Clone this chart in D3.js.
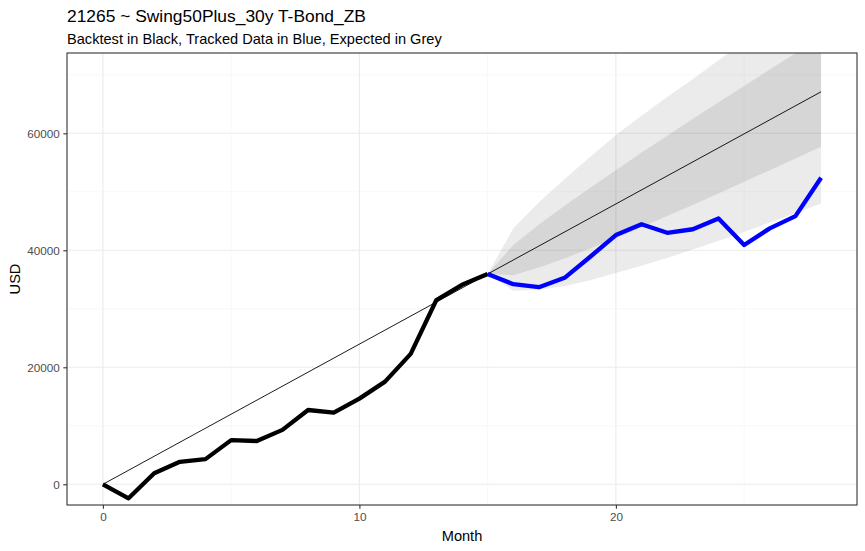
<!DOCTYPE html>
<html>
<head>
<meta charset="utf-8">
<script src="https://cdn.jsdelivr.net/npm/d3@7"></script>
<style>
  html, body { margin: 0; padding: 0; background: #fff; }
  svg { display: block; font-family: "Liberation Sans", Arial, sans-serif; }
</style>
</head>
<body>
<svg id="chart" width="865" height="551"></svg>
<script>
// ---- data ----
const backtestMonths = [0,1,2,3,4,5,6,7,8,9,10,11,12,13,14,15];
const backtestValues = [0,-2400,1900,3850,4300,7550,7400,9300,12700,12250,14650,17550,22300,31500,34100,35950];

const trackedMonths = [15,16,17,18,19,20,21,22,23,24,25,26,27,28];
const trackedValues = [35950,34200,33700,35300,38900,42600,44450,43000,43600,45450,40900,43750,45850,52400];

const expectedMonths = [0,28];
const expectedValues = [0,67100];

const bandMonths  = [15,16,17,18,19,20,21,22,23,24,25,26,27,28];
const outerUpper  = [35950,43760,48200,52200,56000,59700,63000,66200,69300,72500,75600,78600,81600,84600];
const innerUpper  = [35950,40900,44400,47600,50700,53700,56700,59600,62500,65300,68100,70900,73700,76500];
const innerLower  = [35950,35750,37050,38600,40300,42100,43950,45850,47750,49700,51700,53700,55700,57700];
const outerLower  = [35950,33100,33250,33900,34900,36100,37350,38700,40150,41600,43150,44750,46350,48000];

const xTicks = [0,10,20];
const xMinor = [5,15,25];
const yTicks = [0,20000,40000,60000];
const yMinor = [10000,30000,50000,70000];

const titleText = "21265 ~ Swing50Plus_30y T-Bond_ZB";
const subtitleText = "Backtest in Black, Tracked Data in Blue, Expected in Grey";
const xLabel = "Month";
const yLabel = "USD";

// ---- layout ----
const svg = d3.select("#chart");
const panel = {left: 67, right: 857, top: 53, bottom: 505};

const x = d3.scaleLinear().domain([-1.4, 29.4]).range([panel.left, panel.right]);
const y = d3.scaleLinear().domain([-3540, 73730]).range([panel.bottom, panel.top]);

const defs = svg.append("defs");
defs.append("clipPath").attr("id", "clip")
  .append("rect").attr("x", panel.left).attr("y", panel.top)
  .attr("width", panel.right - panel.left).attr("height", panel.bottom - panel.top);

// grid
const grid = svg.append("g");
xMinor.forEach(v => grid.append("line").attr("x1", x(v)).attr("x2", x(v))
  .attr("y1", panel.top).attr("y2", panel.bottom).attr("stroke", "#f2f2f2").attr("stroke-width", 0.55));
yMinor.forEach(v => { if (y(v) > panel.top) grid.append("line").attr("y1", y(v)).attr("y2", y(v))
  .attr("x1", panel.left).attr("x2", panel.right).attr("stroke", "#f2f2f2").attr("stroke-width", 0.55); });
xTicks.forEach(v => grid.append("line").attr("x1", x(v)).attr("x2", x(v))
  .attr("y1", panel.top).attr("y2", panel.bottom).attr("stroke", "#ebebeb").attr("stroke-width", 1.1));
yTicks.forEach(v => grid.append("line").attr("y1", y(v)).attr("y2", y(v))
  .attr("x1", panel.left).attr("x2", panel.right).attr("stroke", "#ebebeb").attr("stroke-width", 1.1));

const plot = svg.append("g").attr("clip-path", "url(#clip)");

// bands
const outerData = bandMonths.map((m, i) => ({m, lo: outerLower[i], hi: outerUpper[i]}));
const innerData = bandMonths.map((m, i) => ({m, lo: innerLower[i], hi: innerUpper[i]}));
const area = d3.area().x(d => x(d.m)).y0(d => y(d.lo)).y1(d => y(d.hi));
plot.append("path").datum(outerData).attr("d", area).attr("fill", "#000").attr("fill-opacity", 0.078);
plot.append("path").datum(innerData).attr("d", area).attr("fill", "#000").attr("fill-opacity", 0.085);

const line = d3.line().x(d => x(d[0])).y(d => y(d[1]));

// expected
plot.append("path").datum(expectedMonths.map((m, i) => [m, expectedValues[i]]))
  .attr("d", line).attr("fill", "none").attr("stroke", "#000").attr("stroke-width", 0.9);

// backtest
plot.append("path").datum(backtestMonths.map((m, i) => [m, backtestValues[i]]))
  .attr("d", line).attr("fill", "none").attr("stroke", "#000").attr("stroke-width", 4.3)
  .attr("stroke-linejoin", "round");

// tracked
plot.append("path").datum(trackedMonths.map((m, i) => [m, trackedValues[i]]))
  .attr("d", line).attr("fill", "none").attr("stroke", "#0000ff").attr("stroke-width", 4.3)
  .attr("stroke-linejoin", "round");

// panel border
svg.append("rect").attr("x", panel.left).attr("y", panel.top)
  .attr("width", panel.right - panel.left).attr("height", panel.bottom - panel.top)
  .attr("fill", "none").attr("stroke", "#333333").attr("stroke-width", 1.1);

// axes
const xAxis = svg.append("g").attr("transform", `translate(0,${panel.bottom})`)
  .call(d3.axisBottom(x).tickValues(xTicks).tickFormat(d3.format("d")).tickSize(3.7).tickPadding(4));
const yAxis = svg.append("g").attr("transform", `translate(${panel.left},0)`)
  .call(d3.axisLeft(y).tickValues(yTicks).tickFormat(d3.format("d")).tickSize(3.7).tickPadding(3.5));
[xAxis, yAxis].forEach(a => {
  a.select(".domain").remove();
  a.selectAll(".tick line").attr("stroke", "#333333").attr("stroke-width", 1.1);
  a.selectAll(".tick text").attr("fill", "#4d4d4d")
    .style("font-family", '"Liberation Sans", Arial, sans-serif').style("font-size", "11.7px");
});

// labels
svg.append("text").attr("x", 67).attr("y", 22).text(titleText)
  .attr("fill", "#000").style("font-size", "17.4px");
svg.append("text").attr("x", 67).attr("y", 44).text(subtitleText)
  .attr("fill", "#000").style("font-size", "14.6px");
svg.append("text").attr("x", (panel.left + panel.right) / 2).attr("y", 541)
  .attr("text-anchor", "middle").text(xLabel).attr("fill", "#000").style("font-size", "14.6px");
svg.append("text").attr("transform", `translate(20,${(panel.top + panel.bottom) / 2}) rotate(-90)`)
  .attr("text-anchor", "middle").text(yLabel).attr("fill", "#000").style("font-size", "14.6px");
</script>
</body>
</html>
